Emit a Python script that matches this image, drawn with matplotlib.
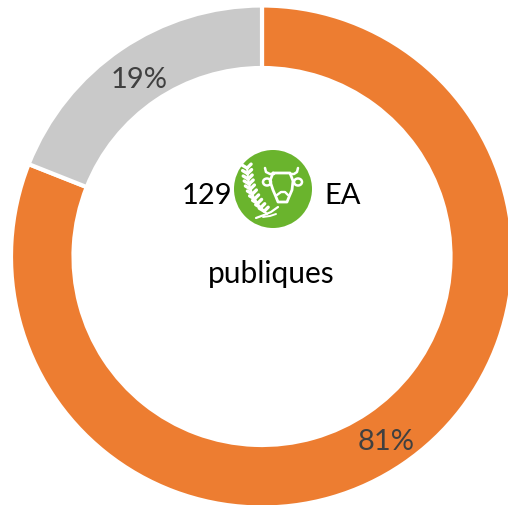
import matplotlib
matplotlib.use("Agg")
import matplotlib.pyplot as plt
import numpy as np
from matplotlib.patches import Circle, Ellipse

values = [81, 19]
labels = ["81%", "19%"]
colors = ["#ED7D31", "#C9C9C9"]
center_texts = ["129", "EA", "publiques"]
W, H = 508, 506
plt.rcParams['font.family'] = ['Lato', 'DejaVu Sans']
fig = plt.figure(figsize=(W/100, H/100), dpi=100)
ax = fig.add_axes([0, 0, 1, 1])
cx, cy, R = 262, 257.5, 251
Y = lambda y: H - y
ax.pie(values, colors=colors, startangle=90, counterclock=False, radius=R, center=(cx, Y(cy)),
       wedgeprops=dict(width=62.5, edgecolor='white', linewidth=3), frame=True)
ax.set_xlim(0, W); ax.set_ylim(0, H); ax.set_aspect('equal'); ax.axis('off')

fs = 21
ax.text(386, Y(442), labels[0], fontsize=fs, color='#404040', ha='center', va='center')
ax.text(139, Y(80), labels[1], fontsize=fs, color='#404040', ha='center', va='center')
ax.text(206.5, Y(195.5), center_texts[0], fontsize=fs, color='black', ha='center', va='center')
ax.text(343, Y(196.5), center_texts[1], fontsize=fs, color='black', ha='center', va='center')
ax.text(271, Y(274), center_texts[2], fontsize=21.5, color='black', ha='center', va='center')

# icon
ix, iy = 273, 190
ax.add_patch(Circle((ix, Y(iy)), 39, fc='#6AB42D', ec='none', zorder=3))
def L(xs, ys, lw=2.0):
    ax.plot([ix+x for x in xs], [Y(iy+y) for y in ys], color='white', lw=lw,
            solid_capstyle='round', solid_joinstyle='round', zorder=4)
# cow head
L([0, 17, 20, 19, 16, 14, 5, 3, 0, -3, 0], [-16, -16, -8, 1, 8, 13, 13, 8, 1, -8, -16], 2.0)
L([4, 8, 12, 15], [6, 3, 3, 6], 1.7)
L([-8, -7, -3, 1], [-21, -17, -15, -15], 1.8)
L([25, 24, 21, 17], [-21, -17, -15, -15], 1.8)
ax.add_patch(Ellipse((ix-6, Y(iy-7)), 8, 7, fc='none', ec='white', lw=1.8, zorder=4))
ax.add_patch(Ellipse((ix+25, Y(iy-7)), 8, 7, fc='none', ec='white', lw=1.8, zorder=4))
# wheat
sx = np.array([-26, -25, -23, -19, -13, -6])
sy = np.array([-22, -11, -1, 9, 18, 25])
L(sx, sy, 1.5)
for i in range(len(sx)-1):
    for t in (0.1, 0.6):
        px = sx[i] + t*(sx[i+1]-sx[i]); py = sy[i] + t*(sy[i+1]-sy[i])
        L([px, px-5], [py, py-3], 2.4)
        L([px, px+4], [py, py-4], 2.4)
L([-17, -9, -2, 5], [29, 26, 23, 18], 1.6)
L([-10, -3, 3], [28, 27, 25], 1.4)
fig.savefig("out.png", dpi=100)
